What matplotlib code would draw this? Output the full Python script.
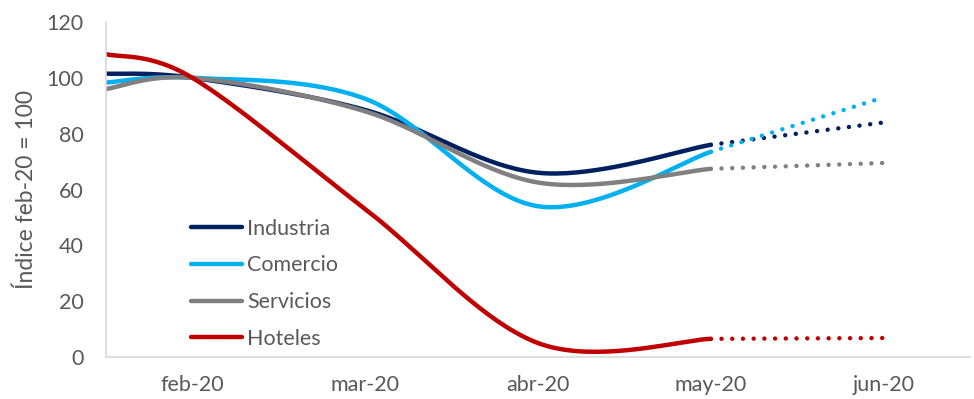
import matplotlib

matplotlib.use("Agg")
import matplotlib.pyplot as plt
import numpy as np

# category positions: first point sits half a category before feb-20
x_solid = [0.5, 1, 2, 3, 4]
x_proj = [4, 5]
tick_pos = [1, 2, 3, 4, 5]
tick_labels = ["feb-20", "mar-20", "abr-20", "may-20", "jun-20"]

industria = [101.5, 100, 88.5, 66, 76]
comercio = [98.3, 100, 92.5, 54, 73.5]
servicios = [96, 100, 88, 62.5, 67.4]
hoteles = [108.5, 100, 53, 5, 6.5]

industria_proj = [76, 84]
comercio_proj = [73.5, 93]
servicios_proj = [67.4, 69.5]
hoteles_proj = [6.5, 6.8]

colors = {"Industria": "#002060", "Comercio": "#00b0f0",
          "Servicios": "#808080", "Hoteles": "#c00000"}
TXT = "#595959"


def smooth(x, y, n=40):
    """Excel-style smoothed line: cubic Bezier with 1/6 neighbour tangents."""
    p = np.column_stack([x, y]).astype(float)
    out = [p[:1]]
    t = np.linspace(0, 1, n)[1:, None]
    for i in range(len(p) - 1):
        a, d = p[i], p[i + 1]
        prev = p[i - 1] if i > 0 else p[i]
        nxt = p[i + 2] if i + 2 < len(p) else p[i + 1]
        b = a + (d - prev) / 6
        c = d - (nxt - a) / 6
        seg = (1 - t) ** 3 * a + 3 * (1 - t) ** 2 * t * b + 3 * (1 - t) * t ** 2 * c + t ** 3 * d
        out.append(seg)
    out = np.vstack(out)
    return out[:, 0], out[:, 1]


plt.rcParams["font.family"] = ["Lato", "DejaVu Sans"]

fig = plt.figure(figsize=(9.74, 3.99), dpi=100)
ax = fig.add_axes([106 / 974, 1 - 357 / 399, 864 / 974, 335 / 399])

lw = 3.2
series = [("Industria", industria, industria_proj),
          ("Comercio", comercio, comercio_proj),
          ("Servicios", servicios, servicios_proj),
          ("Hoteles", hoteles, hoteles_proj)]
for name, ys, yp in series:
    sx, sy = smooth(x_solid, ys)
    ax.plot(sx, sy, color=colors[name], lw=lw, solid_capstyle="round", label=name)
    ax.plot(x_proj, yp, color=colors[name], lw=lw, linestyle=(0, (0.01, 2.4)),
            dash_capstyle="round")

ax.set_xlim(0.5, 5.5)
ax.set_ylim(0, 120)
ax.set_yticks(range(0, 121, 20))
ax.set_xticks(tick_pos)
ax.set_xticklabels(tick_labels)
ax.tick_params(axis="both", length=0, labelsize=15.5, colors=TXT)
ax.tick_params(axis="y", pad=16)
ax.tick_params(axis="x", pad=13)
for s in ["top", "right"]:
    ax.spines[s].set_visible(False)
for s in ["left", "bottom"]:
    ax.spines[s].set_color("#d9d9d9")
    ax.spines[s].set_linewidth(1.2)

ax.set_ylabel("Índice feb-20 = 100", fontsize=16.5, color=TXT)
ax.yaxis.set_label_coords(-0.08, 0.5)

ax.legend(loc="upper left", bbox_to_anchor=(0.0985, 0.413), frameon=False,
          fontsize=15.5, labelcolor=TXT, handlelength=2.35, handletextpad=0.25,
          labelspacing=0.78, borderpad=0, borderaxespad=0)

fig.savefig("out.png", dpi=100)
